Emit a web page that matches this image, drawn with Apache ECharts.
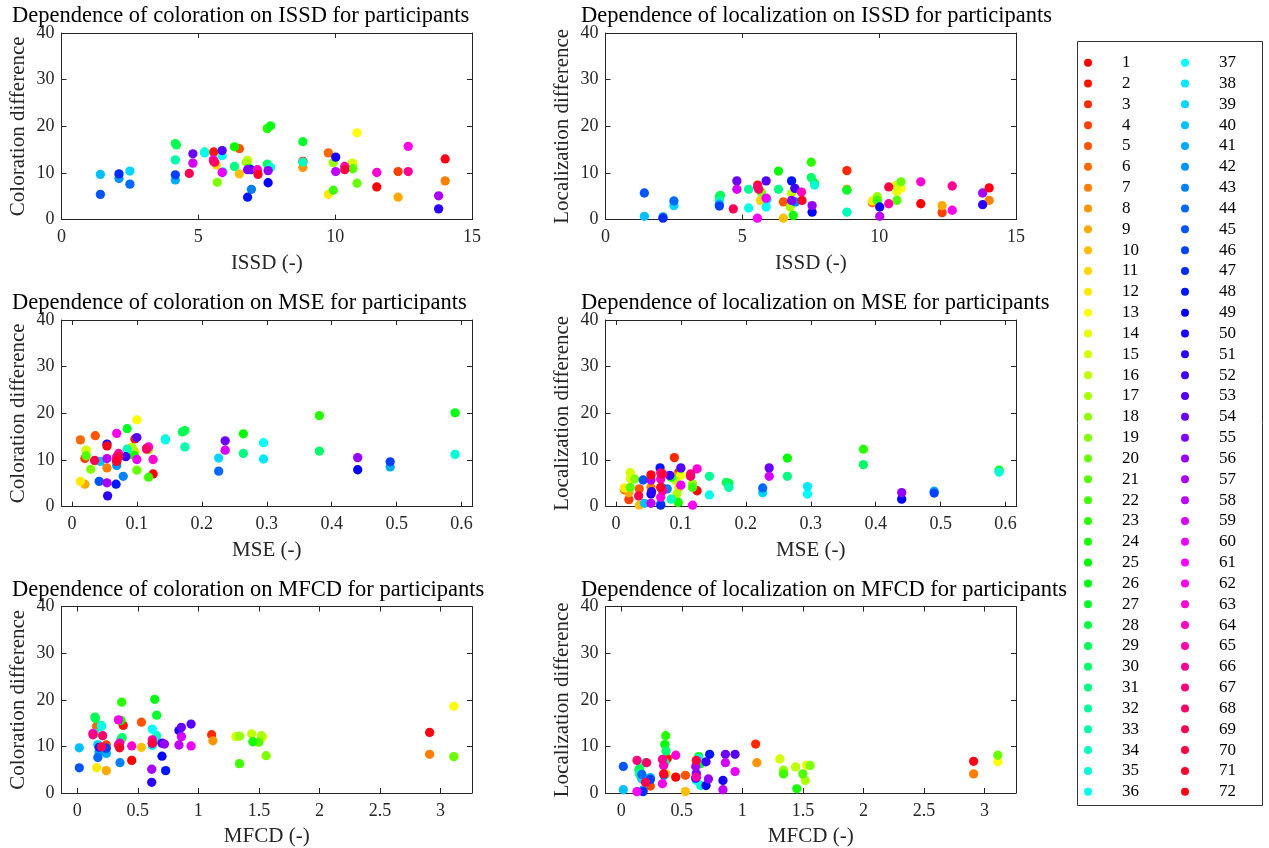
<!DOCTYPE html>
<html><head><meta charset="utf-8">
<script src="https://cdn.jsdelivr.net/npm/echarts@6/dist/echarts.min.js"></script>
<style>html,body{margin:0;padding:0;background:#fff}#c{width:1269px;height:848px}</style>
</head><body><div id="c"></div>
<script>
const participants = Array.from({length: 72}, (_, i) => String(i + 1));
const issd = [11.52,5.56,8.82,12.3,6.5,9.75,14.02,8.82,12.3,6.5,5.66,9.75,10.8,10.65,10.62,6.8,6.75,9.93,5.69,10.8,10.65,9.93,7.52,6.86,6.32,7.64,8.82,4.16,4.2,7.52,6.32,5.23,4.16,8.82,7.64,5.23,5.87,5.9,2.5,1.42,4.16,2.1,6.94,2.5,1.42,4.16,2.1,6.8,7.55,10.02,13.78,6.92,5.87,4.8,6.8,7.55,13.78,10.02,4.8,5.87,5.55,12.67,11.52,7.16,10.35,12.67,5.56,5.6,4.67,10.35,7.18,14.02];
const mse = [0.125,0.097,0.09,0.02,0.036,0.013,0.054,0.09,0.02,0.036,0.097,0.013,0.1,0.022,0.022,0.092,0.094,0.118,0.029,0.1,0.022,0.118,0.381,0.096,0.264,0.59,0.085,0.174,0.17,0.381,0.264,0.144,0.174,0.085,0.59,0.144,0.295,0.295,0.226,0.044,0.49,0.069,0.079,0.226,0.042,0.49,0.069,0.068,0.44,0.054,0.055,0.083,0.1,0.236,0.07,0.44,0.054,0.054,0.236,0.1,0.118,0.069,0.125,0.069,0.072,0.069,0.115,0.115,0.035,0.072,0.069,0.054];
const mfcd = [0.45,0.38,1.11,0.24,0.53,0.16,2.91,1.12,0.24,0.53,0.37,0.16,3.11,1.53,1.31,1.44,1.52,1.34,1.56,3.11,1.5,1.34,0.367,1.45,0.36,0.64,0.656,0.146,0.15,0.37,0.36,0.2,0.15,0.656,0.64,0.2,0.62,0.62,0.17,0.017,0.24,0.18,0.353,0.17,0.017,0.24,0.18,0.73,0.7,0.84,0.615,0.7,0.94,0.86,0.62,0.72,0.615,0.84,0.86,0.94,0.13,0.34,0.45,0.35,0.62,0.34,0.13,0.21,0.2,0.62,0.35,2.91];
const coloration = [7.0,14.5,12.5,10.3,15.2,14.3,8.3,11.2,4.8,9.8,11.7,5.4,18.6,12.0,12.1,12.7,12.3,12.2,8.0,7.8,10.9,6.3,19.5,11.0,15.6,20.1,16.7,16.3,16.0,11.9,11.4,14.5,12.8,12.3,11.2,14.3,13.7,10.2,10.4,9.7,8.5,8.8,6.5,7.6,5.4,9.6,9.8,4.8,7.9,13.4,2.3,10.7,14.8,14.1,10.7,10.5,5.1,10.3,12.1,10.1,12.8,15.7,10.1,10.7,11.4,10.3,12.5,12.3,9.9,10.7,9.7,13.0];
const localization = [3.4,7.4,10.5,1.5,3.8,3.6,4.1,6.5,3.0,0.3,4.1,4.0,6.7,6.0,7.3,5.6,2.7,4.9,5.9,8.1,4.1,4.1,12.3,0.9,10.4,7.8,6.3,5.0,5.2,9.0,6.5,6.5,4.1,1.6,7.4,2.5,2.7,4.3,3.0,0.7,3.3,0.6,3.8,4.0,5.7,2.9,0.3,8.3,1.6,2.7,3.2,6.7,8.3,8.3,4.1,3.0,5.7,0.7,6.5,4.6,0.3,2.0,8.1,5.9,3.4,7.2,7.0,6.5,2.3,7.0,4.1,6.8];
const issdTicks = [0, 5, 10, 15];
const mseTicks = [0, 0.1, 0.2, 0.3, 0.4, 0.5, 0.6];
const mfcdTicks = [0, 0.5, 1, 1.5, 2, 2.5, 3];
const yTicks = [0, 10, 20, 30, 40];
const titles = [
  'Dependence of coloration on ISSD for participants',
  'Dependence of localization on ISSD for participants',
  'Dependence of coloration on MSE for participants',
  'Dependence of localization on MSE for participants',
  'Dependence of coloration on MFCD for participants',
  'Dependence of localization on MFCD for participants'
];

const FONT = 'Liberation Serif';
const AX = '#262626';
const colX = [61.5, 605.5];
const rowY = [33, 320, 606.6];
const gw = 410.5, gh = 186.6;
const panels = [
  {x: issd, y: coloration, min: 0, max: 15, ticks: issdTicks, xn: 'ISSD (-)', yn: 'Coloration difference'},
  {x: issd, y: localization, min: 0, max: 15, ticks: issdTicks, xn: 'ISSD (-)', yn: 'Localization difference'},
  {x: mse, y: coloration, min: -0.016, max: 0.616, ticks: mseTicks, xn: 'MSE (-)', yn: 'Coloration difference'},
  {x: mse, y: localization, min: -0.016, max: 0.616, ticks: mseTicks, xn: 'MSE (-)', yn: 'Localization difference'},
  {x: mfcd, y: coloration, min: -0.13, max: 3.26, ticks: mfcdTicks, xn: 'MFCD (-)', yn: 'Coloration difference'},
  {x: mfcd, y: localization, min: -0.13, max: 3.26, ticks: mfcdTicks, xn: 'MFCD (-)', yn: 'Localization difference'}
];

const grid = [], xAxis = [], yAxis = [], title = [];
const xTop = [], yRight = [];
const line = {show: true, onZero: false, lineStyle: {color: AX, width: 1}};
panels.forEach((p, g) => {
  const c = g % 2, r = Math.floor(g / 2);
  grid.push({left: colX[c], top: rowY[r], width: gw, height: gh});
  title.push({text: titles[g], left: c === 0 ? 12 : 581, top: rowY[r] - 28, padding: 0,
    textStyle: {fontFamily: FONT, fontSize: 22.5, fontWeight: 'normal', color: '#000'}});
  xAxis.push({type: 'value', gridIndex: g, position: 'bottom', min: p.min, max: p.max,
    axisLine: line,
    axisTick: {show: true, inside: true, length: 5, customValues: p.ticks, lineStyle: {color: AX}},
    axisLabel: {show: true, customValues: p.ticks, color: AX, fontFamily: FONT, fontSize: 18, margin: 9,
      formatter: v => String(v)},
    splitLine: {show: false},
    name: p.xn, nameLocation: 'middle', nameGap: 33,
    nameTextStyle: {fontFamily: FONT, fontSize: 21, color: AX}});
  xTop.push({type: 'value', gridIndex: g, position: 'top', min: p.min, max: p.max,
    axisLine: line,
    axisTick: {show: true, inside: true, length: 5, customValues: p.ticks, lineStyle: {color: AX}},
    axisLabel: {show: false}, splitLine: {show: false}});
  yAxis.push({type: 'value', gridIndex: g, position: 'left', min: 0, max: 40, interval: 10,
    axisLine: line,
    axisTick: {show: true, inside: true, length: 5, lineStyle: {color: AX}},
    axisLabel: {show: true, color: AX, fontFamily: FONT, fontSize: 18, margin: 7},
    splitLine: {show: false},
    name: p.yn, nameLocation: 'middle', nameGap: 33,
    nameTextStyle: {fontFamily: FONT, fontSize: 21, color: AX}});
  yRight.push({type: 'value', gridIndex: g, position: 'right', min: 0, max: 40, interval: 10,
    axisLine: line,
    axisTick: {show: true, inside: true, length: 5, lineStyle: {color: AX}},
    axisLabel: {show: false}, splitLine: {show: false}});
});

const colorOf = i => 'hsl(' + (i * 360 / 72) + ',100%,50%)';
const series = [];
participants.forEach((name, i) => {
  panels.forEach((p, g) => {
    series.push({type: 'scatter', name: name, xAxisIndex: g, yAxisIndex: g,
      symbol: 'circle', symbolSize: 9.3, itemStyle: {color: colorOf(i), opacity: 1},
      data: [[p.x[i], p.y[i]]]});
  });
});

const legendBase = {orient: 'vertical', top: 53.7, itemWidth: 58, itemHeight: 8, itemGap: 2.83,
  icon: 'circle', padding: 0, selectedMode: false,
  textStyle: {fontFamily: FONT, fontSize: 17, lineHeight: 18, color: '#000'}};

const chart = echarts.init(document.getElementById('c'), null, {renderer: 'canvas'});
chart.setOption({
  animation: false,
  backgroundColor: '#fff',
  title: title,
  grid: grid,
  xAxis: xAxis.concat(xTop),
  yAxis: yAxis.concat(yRight),
  legend: [
    Object.assign({}, legendBase, {left: 1084, data: participants.slice(0, 36)}),
    Object.assign({}, legendBase, {left: 1181, data: participants.slice(36)})
  ],
  graphic: [{type: 'rect', shape: {x: 1077.5, y: 41.5, width: 185, height: 764},
    style: {fill: 'none', stroke: '#333', lineWidth: 1}, silent: true}],
  series: series
});
</script></body></html>
